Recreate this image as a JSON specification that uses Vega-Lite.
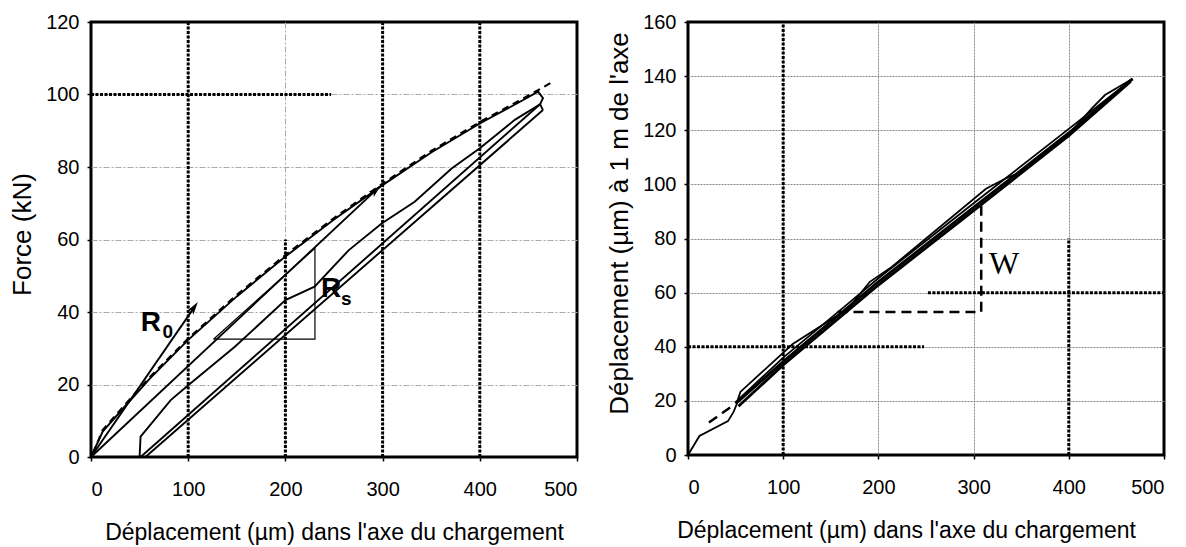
{
 "$schema": "https://vega.github.io/schema/vega-lite/v6.json",
 "background": "white",
 "padding": {"left": 8, "top": 10, "right": 5, "bottom": 5},
 "spacing": 25,
 "config": {
  "font": "Liberation Sans",
  "view": {"stroke": "black", "strokeWidth": 3},
  "axis": {"labelFontSize": 20, "labelColor": "black", "titleColor": "black", "titleFontWeight": "normal", "domain": false, "ticks": true, "tickColor": "black", "tickWidth": 1.5, "tickSize": 4},
  "axisX": {"labelPadding": 18, "titleFontSize": 23, "titlePadding": 22},
  "axisY": {"labelPadding": 8, "titleFontSize": 26, "titlePadding": 10}
 },
 "datasets": {
  "llines": [
   {"s":"env","o":1,"x":0,"y":0},{"s":"env","o":2,"x":12,"y":7},{"s":"env","o":3,"x":35,"y":14},{"s":"env","o":4,"x":60,"y":21.5},{"s":"env","o":5,"x":100,"y":32.3},{"s":"env","o":6,"x":150,"y":44.3},{"s":"env","o":7,"x":200,"y":55.3},{"s":"env","o":8,"x":250,"y":65.5},{"s":"env","o":9,"x":300,"y":75},{"s":"env","o":10,"x":350,"y":84},{"s":"env","o":11,"x":400,"y":92},{"s":"env","o":12,"x":440,"y":97.8},{"s":"env","o":13,"x":460,"y":100.8},{"s":"env","o":14,"x":465,"y":99},{"s":"env","o":15,"x":462,"y":97.3},{"s":"env","o":16,"x":465,"y":95.7},
   {"s":"A","o":1,"x":0,"y":0},{"s":"A","o":2,"x":297,"y":74.6},
   {"s":"R0","o":1,"x":0,"y":0},{"s":"R0","o":2,"x":106,"y":41.2},
   {"s":"B","o":1,"x":50,"y":0},{"s":"B","o":2,"x":51,"y":5.6},{"s":"B","o":3,"x":82,"y":15.7},{"s":"B","o":4,"x":100,"y":19.8},{"s":"B","o":5,"x":148,"y":30.4},{"s":"B","o":6,"x":200,"y":43.3},{"s":"B","o":7,"x":230,"y":47},{"s":"B","o":8,"x":265,"y":57},{"s":"B","o":9,"x":299,"y":64.4},{"s":"B","o":10,"x":333,"y":70.4},{"s":"B","o":11,"x":371,"y":79.6},{"s":"B","o":12,"x":400,"y":85.2},{"s":"B","o":13,"x":436,"y":93},{"s":"B","o":14,"x":462,"y":97.3},
   {"s":"D1","o":1,"x":51,"y":0},{"s":"D1","o":2,"x":462,"y":97.3},
   {"s":"D2","o":1,"x":56,"y":0},{"s":"D2","o":2,"x":465,"y":95.7},
   {"s":"tri","o":1,"x":126,"y":32.5},{"s":"tri","o":2,"x":230.4,"y":32.5},{"s":"tri","o":3,"x":230.4,"y":57.6},{"s":"tri","o":4,"x":126,"y":32.5},
   {"s":"envd","o":1,"x":2,"y":1},{"s":"envd","o":2,"x":12,"y":7.4},{"s":"envd","o":3,"x":35,"y":14.4},{"s":"envd","o":4,"x":60,"y":21.9},{"s":"envd","o":5,"x":100,"y":32.7},{"s":"envd","o":6,"x":150,"y":44.7},{"s":"envd","o":7,"x":200,"y":55.7},{"s":"envd","o":8,"x":250,"y":65.9},{"s":"envd","o":9,"x":300,"y":75.4},{"s":"envd","o":10,"x":350,"y":84.4},{"s":"envd","o":11,"x":400,"y":92.4},{"s":"envd","o":12,"x":440,"y":98.2},{"s":"envd","o":13,"x":460,"y":101.2},{"s":"envd","o":14,"x":475,"y":103.5}
  ],
  "lrules": [
   {"x":100,"y":0,"x2":100,"y2":120},{"x":200,"y":0,"x2":200,"y2":60},{"x":300,"y":0,"x2":300,"y2":120},{"x":400,"y":0,"x2":400,"y2":120},{"x":0,"y":100,"x2":247,"y2":100}
  ],
  "larrows": [
   {"s":"R0","x":106.1,"y":41.3},{"s":"A","x":293.3,"y":73.7}
  ],
  "ltext": [
   {"k":"big","t":"R","x":61.5,"y":37.1},{"k":"big","t":"R","x":247,"y":46.3},
   {"k":"sub","t":"0","x":79,"y":34.6},{"k":"sub","t":"s","x":262.6,"y":43.6}
  ],
  "rlines": [
   {"s":"init","o":1,"x":0,"y":0},{"s":"init","o":2,"x":12,"y":7},{"s":"init","o":3,"x":42,"y":12.5},{"s":"init","o":4,"x":48,"y":16},{"s":"init","o":5,"x":52,"y":19.5},
   {"s":"L1","o":1,"x":50,"y":19},{"s":"L1","o":2,"x":100,"y":34.5},{"s":"L1","o":3,"x":200,"y":64},{"s":"L1","o":4,"x":300,"y":91.5},{"s":"L1","o":5,"x":400,"y":119},{"s":"L1","o":6,"x":467,"y":139},
   {"s":"L2","o":1,"x":53,"y":18},{"s":"L2","o":2,"x":100,"y":33.3},{"s":"L2","o":3,"x":200,"y":62.8},{"s":"L2","o":4,"x":300,"y":90.3},{"s":"L2","o":5,"x":400,"y":118},{"s":"L2","o":6,"x":465,"y":138},
   {"s":"L3","o":1,"x":52,"y":20},{"s":"L3","o":2,"x":55,"y":23.3},{"s":"L3","o":3,"x":110,"y":41},{"s":"L3","o":4,"x":168,"y":54},{"s":"L3","o":5,"x":191,"y":64},{"s":"L3","o":6,"x":214,"y":69.5},{"s":"L3","o":7,"x":313,"y":98.4},{"s":"L3","o":8,"x":333,"y":102.1},{"s":"L3","o":9,"x":350,"y":104.6},{"s":"L3","o":10,"x":400,"y":118.5},{"s":"L3","o":11,"x":424,"y":128},{"s":"L3","o":12,"x":438,"y":133},{"s":"L3","o":13,"x":467,"y":139},
   {"s":"L4","o":1,"x":50,"y":19.5},{"s":"L4","o":2,"x":100,"y":36},{"s":"L4","o":3,"x":165,"y":55},{"s":"L4","o":4,"x":200,"y":65.3},{"s":"L4","o":5,"x":300,"y":93},{"s":"L4","o":6,"x":400,"y":120.5},{"s":"L4","o":7,"x":465,"y":138.5},
   {"s":"d0","o":1,"x":22,"y":12},{"s":"d0","o":2,"x":48,"y":18.5},
   {"s":"W","o":1,"x":157,"y":52.8},{"s":"W","o":2,"x":308,"y":52.8},{"s":"W","o":3,"x":308,"y":93}
  ],
  "rrules": [
   {"x":100,"y":0,"x2":100,"y2":160},{"x":400,"y":0,"x2":400,"y2":80},{"x":252,"y":60,"x2":500,"y2":60},{"x":0,"y":40,"x2":248,"y2":40}
  ],
  "rtext": [{"t":"W","x":332,"y":70.6}]
 },
 "hconcat": [
  {
   "width": 486, "height": 435,
   "view": {"stroke": "black", "strokeWidth": 3},
   "encoding": {
    "x": {"field":"x","type":"quantitative","scale":{"domain":[0,500],"nice":false,"zero":false},
          "axis":{"values":[0,100,200,300,400,500],"title":"Déplacement (µm) dans l'axe du chargement","grid":true,"gridColor":"#aaaaaa","gridDash":[6,2,2,2],"gridWidth":1,
                  "gridOpacity":{"condition":{"test":"datum.value == 0 || datum.value == 500","value":0},"value":1}}},
    "y": {"field":"y","type":"quantitative","scale":{"domain":[0,120],"nice":false},
          "axis":{"values":[0,20,40,60,80,100,120],"title":"Force (kN)","titleY":212,"grid":true,"gridColor":"#aaaaaa","gridDash":[6,2,2,2],"gridWidth":1,
                  "gridOpacity":{"condition":{"test":"datum.value == 0 || datum.value == 120","value":0},"value":1}}}
   },
   "layer": [
    {"data":{"name":"lrules"},"mark":{"type":"rule","color":"black","strokeWidth":3,"strokeDash":[3,1.5]},
     "encoding":{"x2":{"field":"x2"},"y2":{"field":"y2"}}},
    {"data":{"name":"llines"},"transform":[{"filter":"datum.s=='env' || datum.s=='A' || datum.s=='R0' || datum.s=='B' || datum.s=='D1' || datum.s=='D2'"}],
     "mark":{"type":"line","color":"black","strokeWidth":1.9},
     "encoding":{"detail":{"field":"s"},"order":{"field":"o","type":"quantitative"}}},
    {"data":{"name":"llines"},"transform":[{"filter":"datum.s=='tri'"}],
     "mark":{"type":"line","color":"black","strokeWidth":1.2},
     "encoding":{"detail":{"field":"s"},"order":{"field":"o","type":"quantitative"}}},
    {"data":{"name":"llines"},"transform":[{"filter":"datum.s=='envd'"}],
     "mark":{"type":"line","color":"black","strokeWidth":2.2,"strokeDash":[7,5]},
     "encoding":{"detail":{"field":"s"},"order":{"field":"o","type":"quantitative"}}},
    {"data":{"name":"larrows"},"transform":[{"filter":"datum.s=='R0'"}],
     "mark":{"type":"point","shape":"M0,-1L0.55,1L0,0.55L-0.55,1Z","angle":34.6,"size":170,"filled":true,"color":"black","opacity":1}},
    {"data":{"name":"larrows"},"transform":[{"filter":"datum.s=='A'"}],
     "mark":{"type":"point","shape":"M0,-1L0.55,1L0,0.55L-0.55,1Z","angle":47,"size":170,"filled":true,"color":"black","opacity":1}},
    {"data":{"name":"ltext"},"transform":[{"filter":"datum.k=='big'"}],
     "mark":{"type":"text","font":"Liberation Sans","fontWeight":"bold","fontSize":28,"color":"black","align":"center","baseline":"middle"},
     "encoding":{"text":{"field":"t"}}},
    {"data":{"name":"ltext"},"transform":[{"filter":"datum.k=='sub'"}],
     "mark":{"type":"text","font":"Liberation Sans","fontWeight":"bold","fontSize":19,"color":"black","align":"center","baseline":"middle"},
     "encoding":{"text":{"field":"t"}}}
   ]
  },
  {
   "width": 476, "height": 433,
   "view": {"stroke": "black", "strokeWidth": 3},
   "encoding": {
    "x": {"field":"x","type":"quantitative","scale":{"domain":[0,500],"nice":false,"zero":false},
          "axis":{"values":[0,100,200,300,400,500],"title":"Déplacement (µm) dans l'axe du chargement","titleX":218,"grid":true,"gridColor":"#888888","gridDash":[2,1],"gridWidth":1,
                  "gridOpacity":{"condition":{"test":"datum.value == 0 || datum.value == 500","value":0},"value":1}}},
    "y": {"field":"y","type":"quantitative","scale":{"domain":[0,160],"nice":false},
          "axis":{"values":[0,20,40,60,80,100,120,140,160],"title":"Déplacement (µm) à 1 m de l'axe","titleY":201,"grid":true,"gridColor":"#888888","gridDash":[2,1],"gridWidth":1,
                  "gridOpacity":{"condition":{"test":"datum.value == 0 || datum.value == 160","value":0},"value":1}}}
   },
   "layer": [
    {"data":{"name":"rrules"},"mark":{"type":"rule","color":"black","strokeWidth":3,"strokeDash":[3,1.5]},
     "encoding":{"x2":{"field":"x2"},"y2":{"field":"y2"}}},
    {"data":{"name":"rlines"},"transform":[{"filter":"datum.s=='init' || datum.s=='L3' || datum.s=='L4'"}],
     "mark":{"type":"line","color":"black","strokeWidth":1.8},
     "encoding":{"detail":{"field":"s"},"order":{"field":"o","type":"quantitative"}}},
    {"data":{"name":"rlines"},"transform":[{"filter":"datum.s=='L1' || datum.s=='L2'"}],
     "mark":{"type":"line","color":"black","strokeWidth":2.8},
     "encoding":{"detail":{"field":"s"},"order":{"field":"o","type":"quantitative"}}},
    {"data":{"name":"rlines"},"transform":[{"filter":"datum.s=='d0' || datum.s=='W'"}],
     "mark":{"type":"line","color":"black","strokeWidth":2.5,"strokeDash":[10,6]},
     "encoding":{"detail":{"field":"s"},"order":{"field":"o","type":"quantitative"}}},
    {"data":{"name":"rtext"},
     "mark":{"type":"text","font":"Liberation Serif","fontSize":32,"color":"black","align":"center","baseline":"middle"},
     "encoding":{"text":{"field":"t"}}}
   ]
  }
 ]
}
